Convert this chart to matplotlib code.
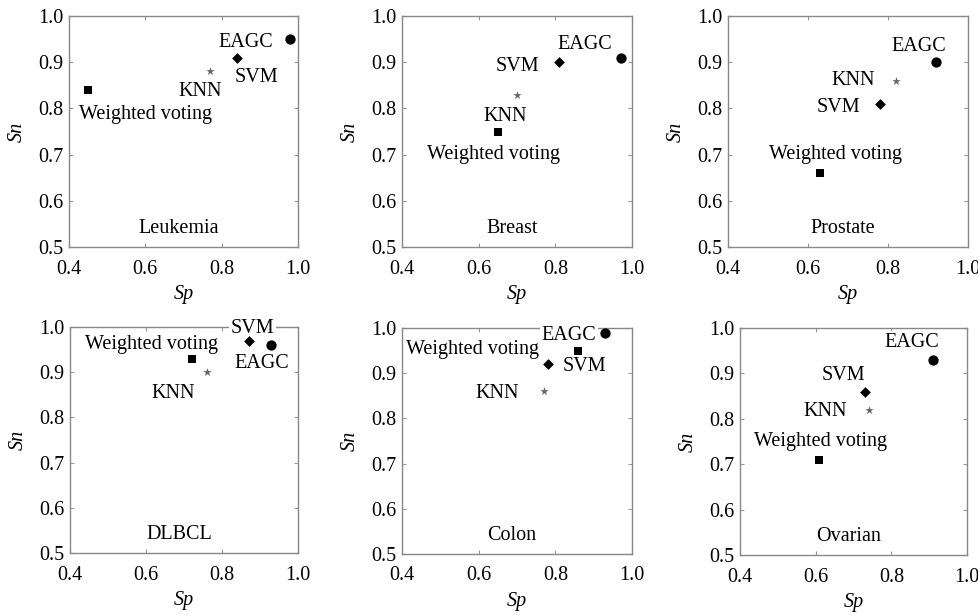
import matplotlib.pyplot as plt

plt.rcParams['font.family'] = ['Liberation Serif', 'DejaVu Serif']
plt.rcParams['mathtext.fontset'] = 'stix'

datasets = ['Leukemia', 'Breast', 'Prostate', 'DLBCL', 'Colon', 'Ovarian']
methods = ['Weighted voting', 'KNN', 'SVM', 'EAGC']

# Sp (x) and Sn (y) per dataset, order follows methods
sp_leukemia = [0.45, 0.77, 0.84, 0.98]
sn_leukemia = [0.84, 0.88, 0.91, 0.95]
sp_breast = [0.65, 0.70, 0.81, 0.97]
sn_breast = [0.75, 0.83, 0.90, 0.91]
sp_prostate = [0.63, 0.82, 0.78, 0.92]
sn_prostate = [0.66, 0.86, 0.81, 0.90]
sp_dlbcl = [0.72, 0.76, 0.87, 0.93]
sn_dlbcl = [0.93, 0.90, 0.97, 0.96]
sp_colon = [0.86, 0.77, 0.78, 0.93]
sn_colon = [0.95, 0.86, 0.92, 0.99]
sp_ovarian = [0.61, 0.74, 0.73, 0.91]
sn_ovarian = [0.71, 0.82, 0.86, 0.93]

sp_all = [sp_leukemia, sp_breast, sp_prostate, sp_dlbcl, sp_colon, sp_ovarian]
sn_all = [sn_leukemia, sn_breast, sn_prostate, sn_dlbcl, sn_colon, sn_ovarian]

xticks = [0.4, 0.6, 0.8, 1.0]
yticks = [0.5, 0.6, 0.7, 0.8, 0.9, 1.0]

# layout: where the method names sit in each panel (data coords)
label_pos = [
    [(0.601, 0.787), (0.744, 0.836), (0.891, 0.867), (0.864, 0.942)],
    [(0.639, 0.701), (0.670, 0.782), (0.700, 0.891), (0.878, 0.939)],
    [(0.668, 0.701), (0.713, 0.861), (0.676, 0.802), (0.878, 0.933)],
    [(0.615, 0.961), (0.672, 0.853), (0.880, 0.997), (0.905, 0.919)],
    [(0.583, 0.952), (0.648, 0.855), (0.876, 0.915), (0.835, 0.984)],
    [(0.612, 0.749), (0.625, 0.817), (0.674, 0.896), (0.854, 0.969)],
]
# axes boxes in pixels: left, right, top, bottom
boxes = [(69, 298, 16, 247), (402, 632, 16, 247), (728, 968, 16, 247),
         (70, 298, 327, 553), (402, 632, 328, 554), (740, 967, 328, 555)]

W, H = 979, 615
fig = plt.figure(figsize=(W / 100, H / 100), dpi=100)

mstyle = [dict(marker='s', color='black', s=36),
          dict(marker='*', color='#666666', s=40),
          dict(marker='D', color='black', s=30),
          dict(marker='o', color='black', s=55)]

for k in range(6):
    l, r, t, b = boxes[k]
    ax = fig.add_axes([l / W, 1 - b / H, (r - l) / W, (b - t) / H])
    for i in range(4):
        ax.scatter(sp_all[k][i], sn_all[k][i], zorder=5, linewidths=0,
                   clip_on=False, **mstyle[i])
        ax.text(label_pos[k][i][0], label_pos[k][i][1], methods[i], fontsize=14.5,
                ha='center', va='center', zorder=4, clip_on=False,
                bbox=dict(facecolor='white', edgecolor='none', pad=1))
    ax.text(0.687, 0.540, datasets[k], fontsize=14.5, ha='center', va='center',
            bbox=dict(facecolor='white', edgecolor='none', pad=1))
    ax.set_xlim(0.4, 1.0)
    ax.set_ylim(0.5, 1.0)
    ax.set_xticks(xticks)
    ax.set_yticks(yticks)
    ax.set_xticklabels(['%.1f' % v for v in xticks])
    ax.set_yticklabels(['%.1f' % v for v in yticks])
    ax.tick_params(direction='in', top=True, right=True, length=3, width=0.8,
                   color='#999999', labelsize=14.5)
    ax.tick_params(axis='x', pad=9)
    ax.tick_params(axis='y', pad=4)
    for s in ax.spines.values():
        s.set_color('#888888')
        s.set_linewidth(1.0)
    ax.set_xlabel('Sp', fontsize=14.5, style='italic', labelpad=5)
    ax.set_ylabel('Sn', fontsize=14.5, style='italic', labelpad=8)

plt.savefig('out.png', dpi=100)
